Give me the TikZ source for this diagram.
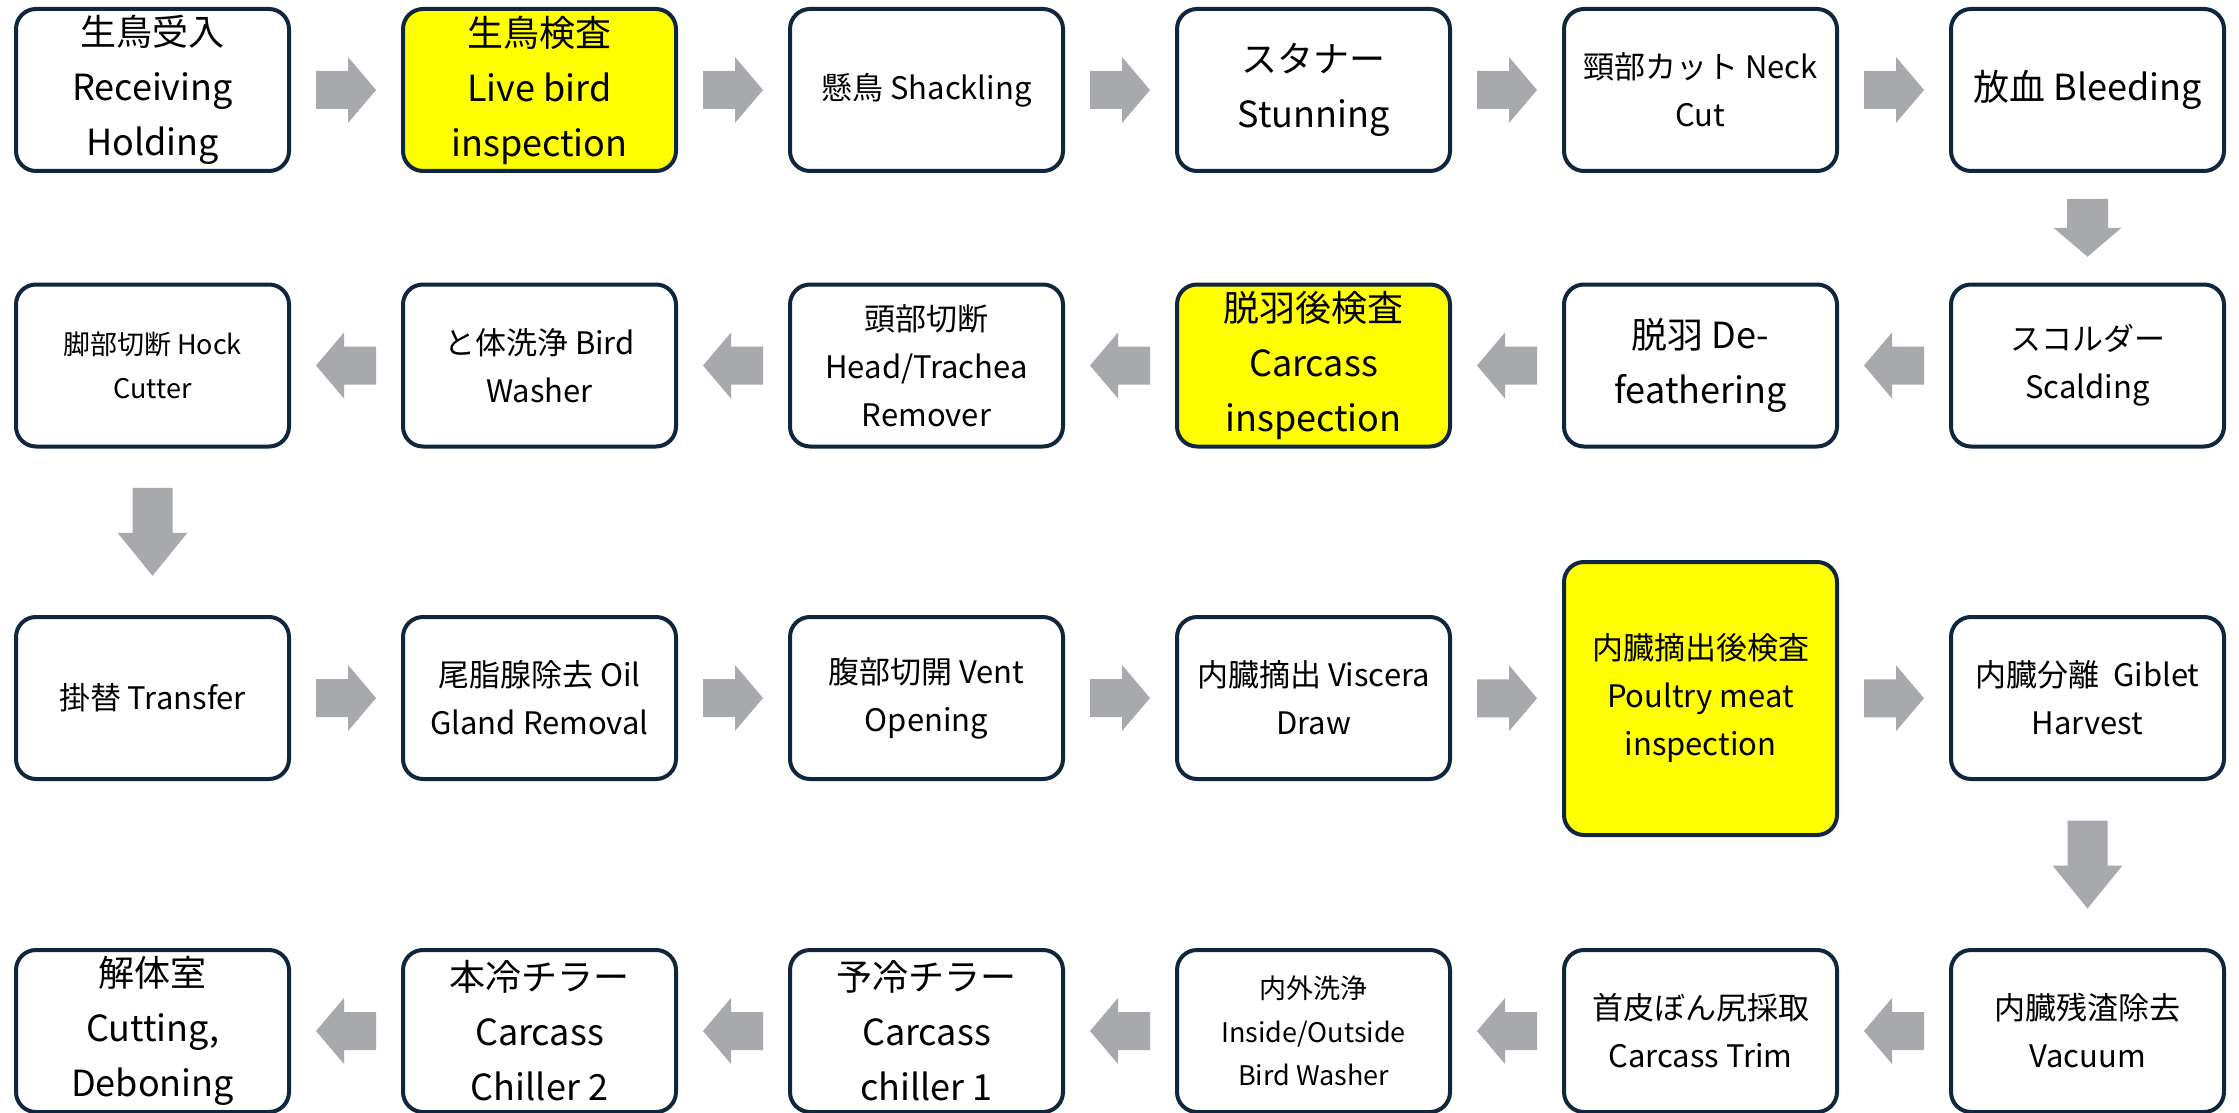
\documentclass[tikz,border=0pt]{standalone}
\usepackage{fontspec}
\setmainfont{Noto Sans CJK JP}
\usetikzlibrary{calc}
\definecolor{boxborder}{RGB}{16,37,62}
\definecolor{arrowgray}{RGB}{168,169,173}
\definecolor{hiyellow}{RGB}{255,255,0}
\tikzset{
  harrR/.pic={\fill[arrowgray] (-30,-19) -- (2,-19) -- (2,-33) -- (30,0) -- (2,33) -- (2,19) -- (-30,19) -- cycle;},
  harrL/.pic={\fill[arrowgray] (30,-19) -- (-2,-19) -- (-2,-33) -- (-30,0) -- (-2,33) -- (-2,19) -- (30,19) -- cycle;},
  varrS/.pic={\fill[arrowgray] (-20.5,-29) -- (20.5,-29) -- (20.5,0) -- (34,0) -- (0,29) -- (-34,0) -- (-20.5,0) -- cycle;},
  varrB/.pic={\fill[arrowgray] (-20,-44) -- (20,-44) -- (20,1) -- (35,1) -- (0,44) -- (-35,1) -- (-20,1) -- cycle;},
}
\begin{document}
\begin{tikzpicture}[x=0.5pt,y=-0.5pt,
  stepbox/.style={draw=boxborder, line width=2pt, rounded corners=10pt, fill=white,
    minimum width=136.5pt, minimum height=81pt, align=center, inner sep=2pt, text=black},
  hl/.style={fill=hiyellow},
  tall/.style={minimum height=136.5pt},
  fa/.style={font=\fontsize{18}{27.5}\selectfont},
  fb/.style={font=\fontsize{15.5}{24}\selectfont},
  fc/.style={font=\fontsize{13.5}{21.75}\selectfont},
]
\useasboundingbox (0,0) rectangle (2239,1113);
\fill[white] (0,0) rectangle (2239,1113);

% row 1
\node[stepbox,fa] (a1) at (152.5,90) {生鳥受入\\Receiving\\Holding};
\node[stepbox,fa,hl] (a2) at (539.5,90) {生鳥検査\\Live bird\\inspection};
\node[stepbox,fb] (a3) at (926.5,90) {懸鳥 Shackling};
\node[stepbox,fa] (a4) at (1313.5,90) {スタナー\\Stunning};
\node[stepbox,fb] (a5) at (1700.5,90) {頸部カット Neck\\Cut};
\node[stepbox,fa] (a6) at (2087.5,90) {放血 Bleeding};

% row 2
\node[stepbox,fb] (b6) at (2087.5,365.5) {スコルダー\\Scalding};
\node[stepbox,fa] (b5) at (1700.5,365.5) {脱羽 De-\\feathering};
\node[stepbox,fa,hl] (b4) at (1313.5,365.5) {脱羽後検査\\Carcass\\inspection};
\node[stepbox,fb] (b3) at (926.5,365.5) {頭部切断\\Head/Trachea\\Remover};
\node[stepbox,fb] (b2) at (539.5,365.5) {と体洗浄 Bird\\Washer};
\node[stepbox,fc] (b1) at (152.5,365.5) {脚部切断 Hock\\Cutter};

% row 3
\node[stepbox,fb] (c1) at (152.5,698) {掛替 Transfer};
\node[stepbox,fb] (c2) at (539.5,698) {尾脂腺除去 Oil\\Gland Removal};
\node[stepbox,fb] (c3) at (926.5,698) {腹部切開 Vent\\Opening};
\node[stepbox,fb] (c4) at (1313.5,698) {内臓摘出 Viscera\\Draw};
\node[stepbox,fb,hl,tall] (c5) at (1700.5,698.5) {内臓摘出後検査\\Poultry meat\\inspection};
\node[stepbox,fb] (c6) at (2087.5,698) {内臓分離\ \ Giblet\\Harvest};

% row 4
\node[stepbox,fb] (d6) at (2087.5,1031) {内臓残渣除去\\Vacuum};
\node[stepbox,fb] (d5) at (1700.5,1031) {首皮ぼん尻採取\\Carcass Trim};
\node[stepbox,fc] (d4) at (1313.5,1031) {内外洗浄\\Inside/Outside\\Bird Washer};
\node[stepbox,fa] (d3) at (926.5,1031) {予冷チラー\\Carcass\\chiller 1};
\node[stepbox,fa] (d2) at (539.5,1031) {本冷チラー\\Carcass\\Chiller 2};
\node[stepbox,fa] (d1) at (152.5,1031) {解体室\\Cutting,\\Deboning};

% arrows row 1
\foreach \p/\q in {a1/a2,a2/a3,a3/a4,a4/a5,a5/a6}
  \pic at ($(\p.east)!0.5!(\q.west)$) {harrR};
\pic at ($(a6.south)!0.5!(b6.north)$) {varrS};
% row 2
\foreach \p/\q in {b6/b5,b5/b4,b4/b3,b3/b2,b2/b1}
  \pic at ($(\p.west)!0.5!(\q.east)$) {harrL};
\pic at ($(b1.south)!0.5!(c1.north)$) {varrB};
% row 3
\foreach \p/\q in {c1/c2,c2/c3,c3/c4,c5/c6}
  \pic at ($(\p.east)!0.5!(\q.west)$) {harrR};
\pic at ($(c4.east)!0.5!(c5.west)$) {harrR};
\pic at ($(c6.south)!0.5!(d6.north)$) {varrB};
% row 4
\foreach \p/\q in {d6/d5,d5/d4,d4/d3,d3/d2,d2/d1}
  \pic at ($(\p.west)!0.5!(\q.east)$) {harrL};
\end{tikzpicture}
\end{document}
